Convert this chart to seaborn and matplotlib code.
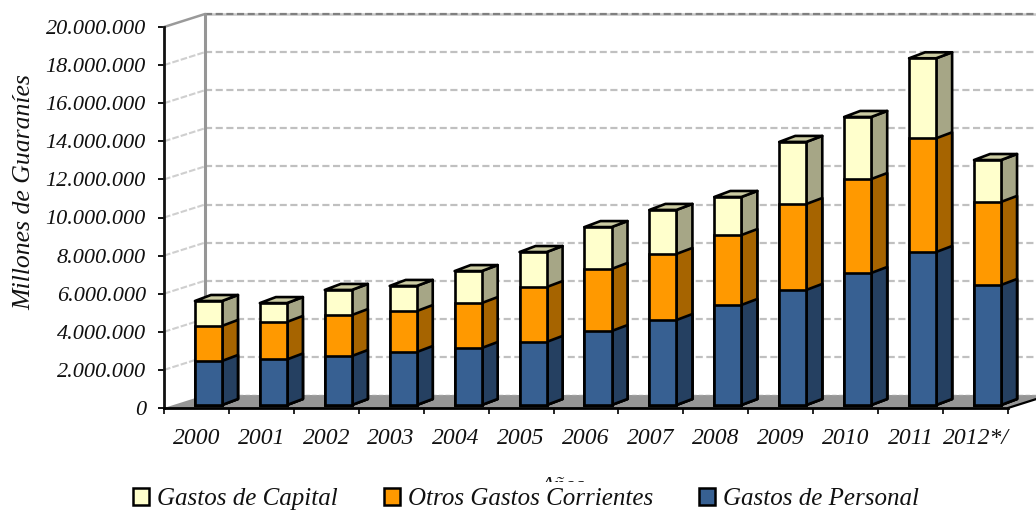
import seaborn as sns
import numpy as np
import matplotlib.pyplot as plt
from matplotlib.patches import Patch, Polygon

years = ['2000', '2001', '2002', '2003', '2004', '2005', '2006',
         '2007', '2008', '2009', '2010', '2011', '2012*/']
personal = [2.31, 2.39, 2.57, 2.78, 2.99, 3.31, 3.88, 4.46, 5.25, 6.04, 6.93, 8.03, 6.30]
otros = [1.84, 1.97, 2.15, 2.15, 2.36, 2.88, 3.26, 3.47, 3.67, 4.51, 4.93, 5.97, 4.36]
capital = [1.31, 0.99, 1.32, 1.32, 1.68, 1.84, 2.20, 2.31, 2.00, 3.26, 3.26, 4.20, 2.20]
y_ticks = [0, 2, 4, 6, 8, 10, 12, 14, 16, 18, 20]
y_labels = ['0', '2.000.000', '4.000.000', '6.000.000', '8.000.000', '10.000.000',
            '12.000.000', '14.000.000', '16.000.000', '18.000.000', '20.000.000']

# (name, front, side)
series = [
    ('Gastos de Capital', '#FFFFCC', '#A6A686'),
    ('Otros Gastos Corrientes', '#FF9900', '#A66400'),
    ('Gastos de Personal', '#376092', '#254061'),
]
top_color = '#CCCCA3'

sns.set_style('white')
plt.rcParams['font.family'] = ['Liberation Serif', 'DejaVu Serif']
plt.rcParams['font.style'] = 'italic'

W, H = 1036, 513
fig = plt.figure(figsize=(W / 100, H / 100), dpi=100)
ax = fig.add_axes([164 / W, 1 - 408 / H, 844 / W, 381 / H])

# pixel sizes converted to data units (1 category = 64.9px, 1 unit = 19.05px)
px_x = 1 / 64.92
px_y = 1 / 19.05
wall_dx, wall_dy = 41 * px_x, 13 * px_y
bar_dx, bar_dy = 12 * px_x, 3 * px_y
side_dx, side_dy = 16 * px_x, 6 * px_y
x0, x1 = -0.5, 12.5
edge = 1.9

p = np.array(personal)
stacks = [p + np.array(otros) + np.array(capital), p + np.array(otros), p]

for (name, front, side), heights in zip(series, stacks):
    n_before = len(ax.patches)
    sns.barplot(x=years, y=heights, color=front, saturation=1, width=0.416,
                edgecolor='black', linewidth=edge, ax=ax, zorder=5)
    for bar in ax.patches[n_before:]:
        bar.set_x(bar.get_x() + bar_dx)
        bar.set_y(bar_dy)
        xl = bar.get_x()
        xr = xl + bar.get_width()
        yt = bar_dy + bar.get_height()
        ax.add_patch(Polygon(
            [(xr, bar_dy), (xr + side_dx, bar_dy + side_dy),
             (xr + side_dx, yt + side_dy), (xr, yt)],
            facecolor=side, edgecolor='black', linewidth=edge, zorder=4.5,
            joinstyle='round', clip_on=False))
        if name == 'Gastos de Capital':
            ax.add_patch(Polygon(
                [(xl, yt), (xr, yt), (xr + side_dx, yt + side_dy), (xl + side_dx, yt + side_dy)],
                facecolor=top_color, edgecolor='black', linewidth=edge, zorder=4.5,
                joinstyle='round', clip_on=False))

ax.set_xlim(x0, x1)
ax.set_ylim(0, 20)

# floor and walls
ax.add_patch(Polygon(
    [(x0, 0), (x1, 0), (x1 + wall_dx, wall_dy), (x0 + wall_dx, wall_dy)],
    facecolor='#969696', edgecolor='none', zorder=1, clip_on=False))
for v in y_ticks:
    if v == 20:
        ax.plot([x0 + wall_dx, x1 + wall_dx], [v + wall_dy, v + wall_dy],
                color='#C8C8C8', lw=1.8, zorder=2, clip_on=False)
    ax.plot([x0 + wall_dx, x1 + wall_dx], [v + wall_dy, v + wall_dy],
            color='#808080' if v == 20 else '#A0A0A0' if v == 0 else '#C0C0C0',
            lw=1.0 if v == 0 else 1.6, dashes=(3.2, 1.6), zorder=2, clip_on=False)
    if 0 < v < 20:
        ax.plot([x0, x0 + wall_dx], [v, v + wall_dy], color='#CFCFCF', lw=1.5,
                dashes=(3.2, 1), zorder=2, clip_on=False)
ax.plot([x0, x0 + wall_dx], [20, 20 + wall_dy], color='#9A9A9A', lw=1.8, zorder=2, clip_on=False)
ax.plot([x0 + wall_dx, x0 + wall_dx], [wall_dy, 20 + wall_dy], color='#969696', lw=2.2,
        zorder=2, clip_on=False)
ax.plot([x1, x1 + wall_dx], [0, wall_dy], color='black', lw=1.6, zorder=3, clip_on=False)

sns.despine(ax=ax, top=True, right=True)
ax.spines['left'].set_color('#111111')
ax.spines['left'].set_linewidth(2.0)
ax.spines['bottom'].set_color('black')
ax.spines['bottom'].set_linewidth(2.0)
ax.spines['bottom'].set_zorder(6)

ax.set_yticks(y_ticks)
ax.set_yticklabels(y_labels, fontsize=16, color='#111111')
ax.tick_params(axis='y', left=True, length=4, width=1.3, color='black', pad=9)
ax.set_xticks(range(len(years)))
ax.set_xticklabels(years, fontsize=17, color='#111111')
ax.set_xticks(np.arange(x0, x1 + 0.1, 1), minor=True)
ax.tick_params(axis='x', which='major', bottom=False, pad=11)
ax.tick_params(axis='x', which='minor', bottom=True, length=4, width=1.2, color='black')
ax.set_xlabel('')
ax.set_ylabel('')

fig.text(24 / W, 1 - 192 / H, 'Millones de Guaraníes', rotation=90, fontsize=18.5,
         ha='center', va='center', color='#111111')
# the legend box sits over the axis title, only its top shows
fig.text(562 / W, 1 - 491 / H, 'Años', fontsize=16, ha='center', va='baseline', color='#111111')

handles = [Patch(facecolor=c, edgecolor='black', linewidth=1.8, label=n) for n, c, _ in series]
fig.legend(handles=handles, ncol=3, loc='center', bbox_to_anchor=(526 / W, 1 - 499 / H),
           frameon=True, facecolor='white', edgecolor='none', framealpha=1, fontsize=18,
           handlelength=0.64, handleheight=0.64, handletextpad=0.32, columnspacing=1.85,
           labelcolor='#111111', borderpad=0.25, borderaxespad=0, fancybox=False)

fig.savefig('out.png', dpi=100)
